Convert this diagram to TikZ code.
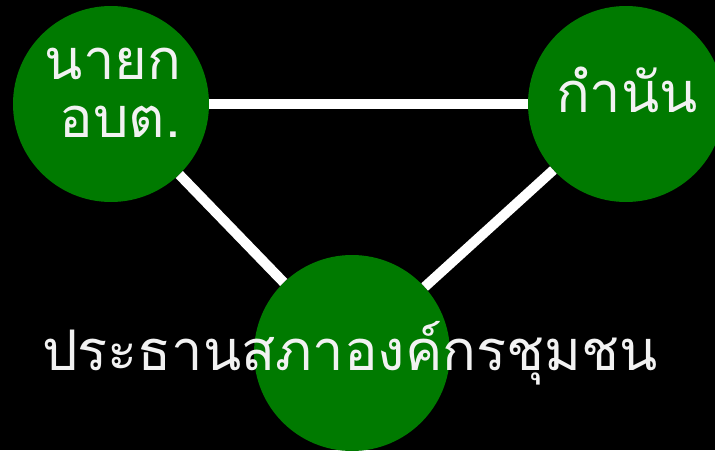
\documentclass[tikz,border=0pt]{standalone}
\usepackage{fontspec}
\newfontfamily\thaifont[Script=Thai]{Loma}
\definecolor{nodegreen}{RGB}{0,122,0}
\definecolor{txtwhite}{RGB}{242,242,242}
\begin{document}
\begin{tikzpicture}[x=1pt,y=-1pt,
  bubble/.style={circle,fill=nodegreen,minimum size=196pt,inner sep=0pt},
  link/.style={draw=white,line width=10pt},
  lbl/.style={text=txtwhite,inner sep=0pt,font=\thaifont\fontsize{56}{58}\selectfont,align=center}]
\fill[black] (0,0) rectangle (715,450);
\useasboundingbox (0,0) rectangle (715,450);
\begin{scope}
\clip (0,0) rectangle (715,450);
\node[bubble] (a) at (111,104) {};
\node[bubble] (b) at (626,104) {};
\node[bubble] (c) at (352,353) {};
\end{scope}
\draw[link] (a) -- (b);
\draw[link] (a) -- (c);
\draw[link] (b) -- (c);
\node[lbl,anchor=base] (ta) at (113,137) {นายก\\\hspace*{14pt}อบต.};
\node[lbl,anchor=base] (tb) at (627,112) {กำนัน};
\node[lbl,anchor=base] (tc) at (350,370) {ประธานสภาองค์กรชุมชน};
\end{tikzpicture}
\end{document}
